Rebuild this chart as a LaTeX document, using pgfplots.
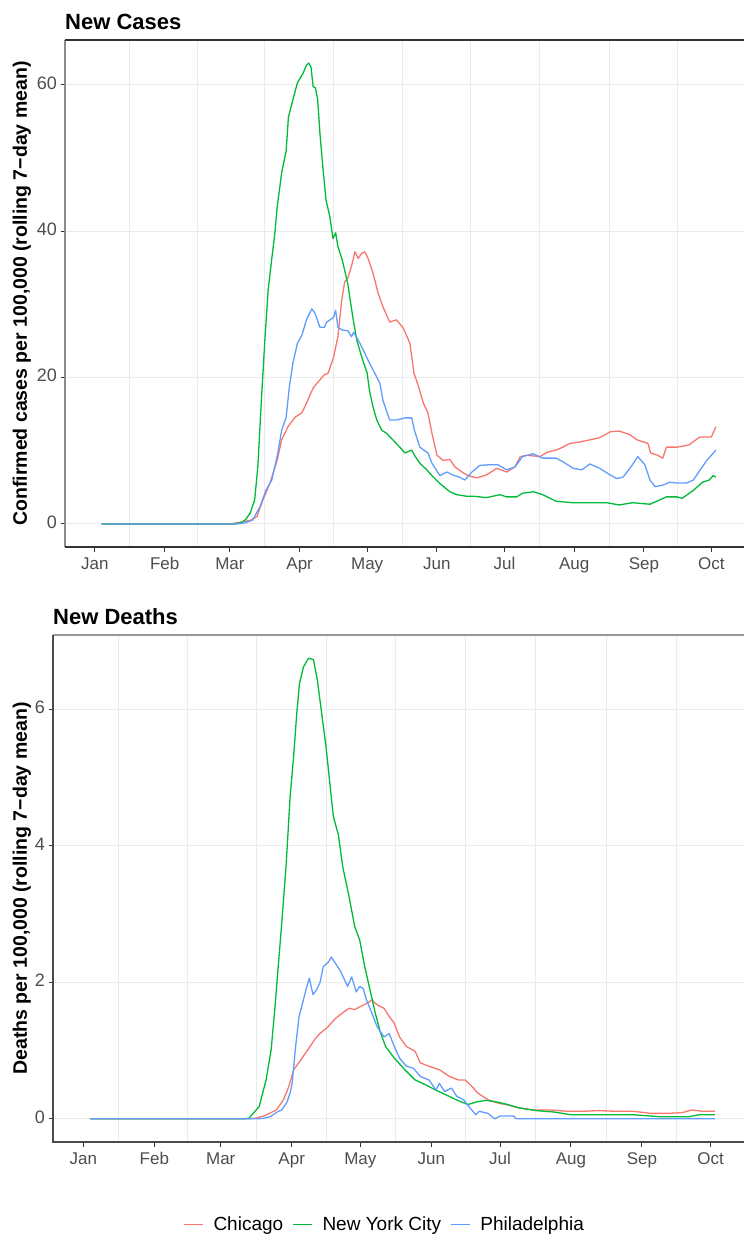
\documentclass[border=0pt]{standalone}
\usepackage{fontspec}
\setmainfont{Liberation Sans}
\usepackage{pgfplots}
\pgfplotsset{compat=1.18}

\definecolor{cchi}{HTML}{F8766D}
\definecolor{cnyc}{HTML}{00BA38}
\definecolor{cphl}{HTML}{619CFF}
\definecolor{gridc}{HTML}{EBEBEB}
\definecolor{txt}{HTML}{4D4D4D}

% x = day of year 2020 (Jan 1 = 0)
\pgfplotsset{
  panel/.style={
    scale only axis,
    xtick={0,31,60,91,121,152,182,213,244,274},
    xticklabels={Jan,Feb,Mar,Apr,May,Jun,Jul,Aug,Sep,Oct},
    minor xtick={15.5,45.5,75.5,106,136.5,167,197.5,228.5,259},
    xminorgrids=true, ymajorgrids=true, xmajorgrids=false,
    minor tick length=0pt,
    major tick length=4.5bp,
    tick align=outside,
    xtick pos=bottom, ytick pos=left,
    major grid style={draw=gridc, line width=1bp},
    minor grid style={draw=gridc, line width=1bp},
    major tick style={draw=black!80, line width=1bp},
    typeset ticklabels with strut,
    xticklabel style={font=\fontsize{17bp}{20bp}\selectfont, color=txt},
    yticklabel style={font=\fontsize{18bp}{21bp}\selectfont, color=txt},
    /pgf/number format/assume math mode=true,
    title style={anchor=base west, at={(0,1)}, yshift=5bp, inner sep=0pt,
      font=\fontsize{22bp}{26bp}\selectfont\bfseries},
    ylabel style={anchor=center, font=\fontsize{19.5bp}{23bp}\selectfont\bfseries},
    axis line style={draw=none},
    every axis plot/.append style={line width=1.3bp, line join=round},
  },
}

\begin{document}
\begin{tikzpicture}

\begin{axis}[panel,
  at={(65bp,-547bp)}, anchor=south west,
  width=695bp, height=507bp,
  xmin=-13.3, xmax=295.6,
  ymin=-3.15, ymax=66.15, ytick={0,20,40,60},
  title={New Cases},
  ylabel={Confirmed cases per 100,000 (rolling 7−day mean)},
  ylabel style={at={([xshift=-43bp]axis description cs:0,0.5)}},
  after end axis/.code={
    \draw[black!45, line width=1.1bp] (rel axis cs:0,0) -- (rel axis cs:0,1);
    \draw[black!80, line width=1.1bp] (rel axis cs:0,1) -- (rel axis cs:1,1);
    \draw[black!80, line width=1.1bp] (rel axis cs:0,0) -- (rel axis cs:1,0);
  }]

\addplot[cchi] coordinates {
(3,0) (60,0) (64,0.2) (69,0.5) (72,1) (74.7,3.3) (77.8,5.6) (81,8.7) (83,11.5)
(85.8,13.3) (89,14.6) (92,15.2) (94,16.5) (97,18.6) (100,19.7) (102,20.4)
(103.6,20.6) (106,22.7) (108,25.6) (109.7,30.6) (111,33.1) (112.4,33.6)
(114,35.2) (115.6,37.2) (117,36.3) (118.6,37) (120,37.2) (121.4,36.3)
(123.6,34.3) (125.8,31.6) (128,29.7) (131,27.6) (134,27.9) (137,26.8)
(140,24.7) (141.8,20.6) (143.6,19) (146,16.5) (148,15.2) (149.8,12.4)
(152,9.4) (154.7,8.7) (157.8,8.8) (160,7.8) (163.6,7.0) (166,6.6) (169.8,6.3)
(174,6.7) (178.6,7.6) (183,7.1) (186.7,7.8) (189,9.2) (192,9.4) (197.8,9.2)
(200.9,9.8) (205,10.1) (208,10.5) (211,11) (215.6,11.2) (220,11.5)
(224.4,11.8) (229,12.6) (233,12.7) (237.8,12.2) (240.9,11.5) (245.8,11)
(247,9.7) (250,9.4) (252.4,9) (254,10.5) (258.7,10.5) (264,10.8)
(268.9,11.9) (274,11.9) (276,13.3)
};

\addplot[cnyc] coordinates {
(3,0) (62,0) (65,0.2) (67,0.6) (69,1.5) (71,3.3) (72.4,7.8) (74,17) (75.5,25)
(77,32) (78.5,36) (80,39.8) (81,43.3) (83,48) (85,51) (86,55.6) (88,58)
(90,60.3) (92.5,61.6) (94,62.7) (95,63) (96,62.5) (97,59.8) (98,59.6) (99,58)
(100,53.4) (101.3,48.8) (102.7,44.3) (104.4,42) (105.8,39) (107,39.8)
(108,37.9) (110,36) (112.4,32.8) (114.6,28.3) (116.4,25.1) (118.6,22.8)
(121,20.6) (122,18.3) (123.6,16) (125.3,14.2) (127.5,12.8) (129.6,12.4)
(132.4,11.5) (135.5,10.5) (137.8,9.7) (140.8,10.1) (142,9.4) (144.4,8.3)
(147.5,7.4) (150.4,6.4) (153,5.6) (157.8,4.4) (160.8,4.0) (165,3.8) (168,3.8)
(174,3.6) (180,4.0) (183,3.7) (187.5,3.7) (190,4.2) (195,4.4) (199,4.0)
(205,3.1) (212.6,2.9) (220,2.9) (227.5,2.9) (233,2.6) (239,2.9) (246.7,2.7)
(254,3.7) (258.7,3.7) (261,3.5) (266,4.6) (270,5.7) (273,6.0) (274.8,6.6)
(276,6.4)
};

\addplot[cphl] coordinates {
(3,0) (63,0) (66,0.1) (70,0.5) (73.3,2.3) (76,4.6) (78.6,6) (81.3,9.7)
(83,12.8) (85,14.6) (86.4,18.7) (88,22) (90,24.7) (92,25.8) (94,27.9)
(96.4,29.4) (97.8,28.8) (100,26.9) (102,26.9) (103,27.6) (106,28.2) (107,29.2)
(108,26.9) (110,26.5) (112.5,26.4) (114,25.6) (115,26.2) (117.8,24.7)
(120,23.3) (122,22) (124.4,20.6) (126.7,19.2) (128,16.9) (131,14.2) (134,14.2)
(137.8,14.5) (140.8,14.5) (142,12.8) (144.4,10.5) (148,9.7) (149.8,8.3)
(153.3,6.6) (156.4,7.1) (159,6.7) (162,6.4) (164.4,6) (167.6,7.1) (171,8.0)
(175.6,8.1) (179,8.1) (183,7.4) (186.7,7.8) (190,9.2) (194.7,9.6) (199,9)
(205,9) (208,8.5) (212.6,7.6) (216.4,7.4) (220,8.2) (224.4,7.6) (229,6.7)
(232,6.2) (234.7,6.4) (237.8,7.6) (241.3,9.2) (244.4,8.1) (246.7,6) (249,5.1)
(252.4,5.3) (255.5,5.7) (258.7,5.6) (263,5.6) (266,6) (269,7.4) (272,8.7)
(276,10.1)
};
\end{axis}

\begin{axis}[panel,
  at={(53bp,-1142bp)}, anchor=south west,
  width=707bp, height=507bp,
  xmin=-13.3, xmax=295.6,
  ymin=-0.34, ymax=7.09, ytick={0,2,4,6},
  title={New Deaths},
  ylabel={Deaths per 100,000 (rolling 7−day mean)},
  ylabel style={at={([xshift=-31bp]axis description cs:0,0.5)}},
  after end axis/.code={
    \draw[black!40, line width=1.1bp] (rel axis cs:0,1) -- (rel axis cs:1,1);
    \draw[black!70, line width=1.1bp] (rel axis cs:0,1) -- (rel axis cs:0,0) -- (rel axis cs:1,0);
  },
  legend columns=3,
  legend style={at={(0.469,-0.162)}, anchor=center, draw=none, fill=none,
    font=\fontsize{19bp}{23bp}\selectfont,
    /tikz/every odd column/.append style={column sep=8bp},
    /tikz/every even column/.append style={column sep=7bp}},
  legend image code/.code={\draw[#1, line width=1.3bp] (0bp,0bp) -- (19bp,0bp);}]

\addplot[cchi] coordinates {
(3,0) (72,0) (75.3,0.01) (78.7,0.04) (81.3,0.08) (84.3,0.13) (87.4,0.28)
(89.7,0.47) (91.9,0.72) (94.9,0.86) (98,1.01) (101,1.16) (103.3,1.25)
(106.3,1.33) (110.1,1.47) (113.1,1.55) (116.1,1.62) (118.4,1.6) (120.7,1.64)
(123.7,1.69) (126,1.74) (128.3,1.67) (131.3,1.62) (133.6,1.5) (135.8,1.4)
(138.1,1.2) (141.1,1.06) (144.9,0.99) (147.2,0.82) (151,0.77) (155.5,0.72)
(160,0.62) (163.8,0.57) (166.8,0.57) (169.9,0.47) (172.2,0.38) (176.7,0.28)
(181.2,0.23) (185.8,0.2) (190.3,0.16) (196.4,0.13) (204,0.13) (211.5,0.11)
(217.6,0.11) (225.1,0.12) (232.7,0.11) (240.3,0.11) (247.9,0.08) (255.4,0.08)
(261.5,0.09) (266,0.13) (270.5,0.11) (275.9,0.11)
};
\addlegendentry{Chicago}

\addplot[cnyc] coordinates {
(3,0) (70,0) (72.3,0.01) (76.8,0.18) (79.8,0.57) (82,1.01) (83.6,1.6)
(85.1,2.23) (86.6,2.85) (88.6,3.74) (90.3,4.72) (91.8,5.3) (93.2,5.94)
(94.4,6.38) (96.1,6.62) (98.3,6.75) (100.5,6.73) (102.2,6.43) (104.1,5.94)
(106,5.45) (107.8,4.87) (109.2,4.43) (111.4,4.16) (113.3,3.69) (115.8,3.3)
(118.5,2.82) (120.7,2.62) (122.9,2.23) (125.2,1.89) (127.5,1.55) (129.8,1.26)
(132,1.06) (135.8,0.89) (140.4,0.72) (144.9,0.57) (149.4,0.5) (154,0.42)
(158.5,0.35) (163.5,0.27) (168,0.21) (172,0.25) (176,0.27) (180,0.25)
(184.2,0.22) (190.3,0.16) (197.9,0.12) (205.5,0.1) (213,0.06) (225,0.06)
(240,0.06) (252,0.03) (264.5,0.03) (269,0.06) (275.9,0.06)
};
\addlegendentry{New York City}

\addplot[cphl] coordinates {
(3,0) (75,0) (78.3,0.005) (81.6,0.03) (82.9,0.06) (85.2,0.11) (86.6,0.13)
(88.9,0.24) (90.3,0.38) (91.2,0.52) (92.7,1.06) (94.2,1.5) (95.7,1.69)
(97.2,1.89) (98.7,2.06) (100.3,1.82) (101.8,1.89) (103.3,1.99) (104.8,2.23)
(107.1,2.3) (108.3,2.37) (110.1,2.28) (112.4,2.16) (115.4,1.94) (117.2,2.08)
(119.2,1.86) (120.7,1.94) (122.2,1.91) (123.7,1.74) (126,1.55) (128.3,1.35)
(131.3,1.2) (133.6,1.25) (135.8,1.06) (138.1,0.89) (141.1,0.77) (144.2,0.74)
(147.2,0.62) (151,0.57) (154,0.42) (155.5,0.52) (157.8,0.4) (160.8,0.45)
(163.1,0.33) (166.1,0.28) (168.4,0.18) (171.4,0.06) (172.9,0.11) (176.7,0.08)
(179.7,0) (182,0.04) (188,0.04) (189.1,0) (276,0)
};
\addlegendentry{Philadelphia}
\end{axis}

\pgfresetboundingbox
\useasboundingbox (0,0) rectangle (744bp,-1236bp);
\end{tikzpicture}
\end{document}
